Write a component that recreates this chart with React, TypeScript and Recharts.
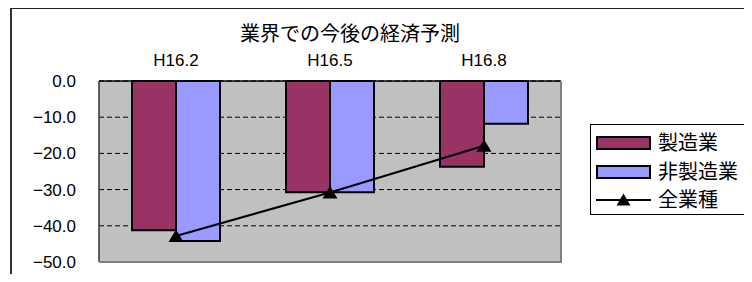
import { ComposedChart, Bar, Line, XAxis, YAxis, CartesianGrid, Legend } from "recharts";

const categories = ["H16.2", "H16.5", "H16.8"];
const manufacturing = [-41.2, -30.7, -23.7];
const nonManufacturing = [-44.2, -30.7, -11.8];
const allIndustries = [-42.8, -30.8, -17.9];
const yTicks = [0, -10, -20, -30, -40, -50];

const seriesNames = ["製造業", "非製造業", "全業種"];
const barColors = ["#993366", "#9999FF"];

const data = categories.map((period, i) => ({
  period,
  [seriesNames[0]]: manufacturing[i],
  [seriesNames[1]]: nonManufacturing[i],
  [seriesNames[2]]: allIndustries[i],
}));

const fmt = (v: number) => (v < 0 ? "\u2212" + Math.abs(v).toFixed(1) : v.toFixed(1));

const Triangle = (props: any) => {
  const { cx, cy } = props;
  if (cx == null || cy == null) return null;
  return <path d={`M${cx},${cy - 6.5}L${cx + 7.5},${cy + 6}L${cx - 7.5},${cy + 6}Z`} fill="#000" />;
};

const LegendBox = () => (
  <div
    style={{
      width: 158,
      height: 91,
      boxSizing: "border-box",
      border: "1px solid #000",
      background: "#fff",
      paddingTop: 4,
    }}
  >
    {seriesNames.map((name, i) => (
      <div key={name} style={{ display: "flex", alignItems: "center", height: 28.5 }}>
        <svg width={62} height={16} style={{ marginLeft: 5 }}>
          {i < 2 ? (
            <rect x={1} y={2} width={53} height={12} fill={barColors[i]} stroke="#000" strokeWidth={2} />
          ) : (
            <>
              <line x1={0} y1={8} x2={55} y2={8} stroke="#000" strokeWidth={2} />
              <path d="M27.5,1.5L34.5,13.5L20.5,13.5Z" fill="#000" />
            </>
          )}
        </svg>
        <span style={{ fontSize: 20, color: "#000", lineHeight: "22px" }}>{name}</span>
      </div>
    ))}
  </div>
);

// chart margins, plot area is 99..561 x 81..262
const M = { top: 51, right: 191, bottom: 20, left: 0 };

export default function App() {
  return (
    <div
      style={{
        position: "relative",
        width: 752,
        height: 282,
        margin: -8,
        overflow: "hidden",
        background: "#fff",
        fontFamily: "'Liberation Sans', 'Noto Sans CJK JP', sans-serif",
      }}
    >
      <div
        style={{
          position: "absolute",
          left: 10,
          top: 8,
          width: 800,
          height: 320,
          borderTop: "1px solid #222",
          borderLeft: "2px solid #333",
        }}
      />
      <div
        style={{
          position: "absolute",
          left: 0,
          width: 700,
          top: 22,
          height: 24,
          lineHeight: "24px",
          textAlign: "center",
          fontSize: 20,
          color: "#000",
        }}
      >
        業界での今後の経済予測
      </div>
      <div style={{ position: "absolute", left: 0, top: 0 }}>
        <ComposedChart width={752} height={282} data={data} margin={M} barSize={44} barGap={0}>
          <CartesianGrid vertical={false} fill="#C0C0C0" fillOpacity={1} stroke="#000" strokeDasharray="5 3" />
          <XAxis
            dataKey="period"
            orientation="top"
            height={30}
            tickLine={false}
            tickSize={0}
            tickMargin={15}
            axisLine={{ stroke: "#000", strokeWidth: 1.5 }}
            tick={{ fill: "#000", fontSize: 17 }}
          />
          <YAxis
            domain={[-50, 0]}
            ticks={yTicks}
            interval={0}
            width={99}
            tickSize={0}
            tickMargin={23}
            tickLine={false}
            axisLine={{ stroke: "#333", strokeWidth: 1.5 }}
            tickFormatter={fmt}
            tick={{ fill: "#000", fontSize: 17 }}
          />
          <Legend
            layout="vertical"
            align="center"
            verticalAlign="middle"
            wrapperStyle={{ left: 590, top: 124, width: 158, height: 91 }}
            content={() => <LegendBox />}
          />
          <Bar dataKey={seriesNames[0]} fill={barColors[0]} stroke="#000" strokeWidth={2} isAnimationActive={false} />
          <Bar dataKey={seriesNames[1]} fill={barColors[1]} stroke="#000" strokeWidth={2} isAnimationActive={false} />
          <Line
            dataKey={seriesNames[2]}
            type="linear"
            stroke="#000"
            strokeWidth={2.2}
            dot={<Triangle />}
            activeDot={false}
            isAnimationActive={false}
          />
        </ComposedChart>
      </div>
      {/* plot-area frame (right and bottom edges) */}
      <div
        style={{
          position: "absolute",
          left: 99,
          top: M.top + 30,
          width: 752 - M.right - 99 + 1,
          height: 282 - M.bottom - M.top - 30 + 1,
          boxSizing: "border-box",
          borderRight: "2px solid #808080",
          borderBottom: "2px solid #808080",
          pointerEvents: "none",
        }}
      />
    </div>
  );
}
